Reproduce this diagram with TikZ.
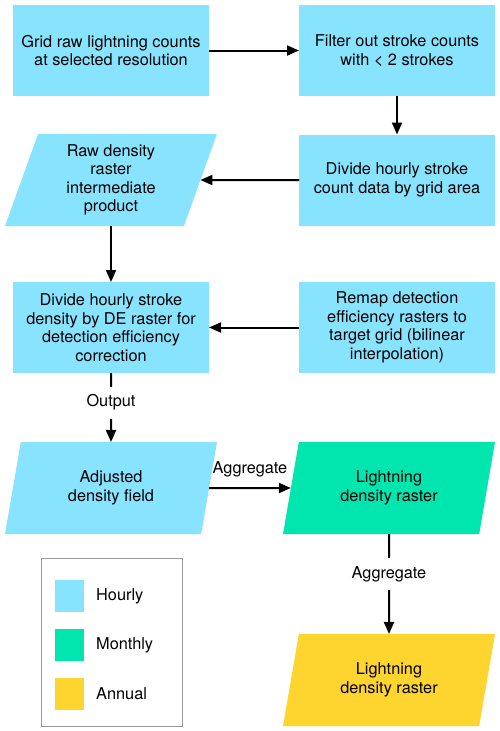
\documentclass[tikz,border=0pt]{standalone}
\usepackage{fontspec}
\setmainfont{TeX Gyre Heros}
\usepackage{xcolor}
\usetikzlibrary{arrows.meta,positioning,shapes.geometric}
\definecolor{lfdhourly}{HTML}{88E3FE}
\definecolor{lfdmonthly}{HTML}{00E6AE}
\definecolor{lfdannual}{HTML}{FED42F}
\definecolor{lfdframe}{HTML}{9A9A9A}
\tikzset{
  every picture/.append style={line cap=butt,line join=miter},
  lfd box/.style={rectangle,fill=lfdhourly,minimum width=196pt,minimum height=91pt,align=center,inner sep=0pt,outer sep=0pt},
  lfd data/.style={trapezium,trapezium left angle=65,trapezium right angle=115,trapezium stretches body,minimum width=212pt,minimum height=92pt,align=center,inner sep=0pt,outer sep=0pt},
  lfd arrow/.style={line width=2pt,-{Triangle[length=12pt,width=10pt]}},
  lfd note/.style={fill=white,inner xsep=2pt,inner ysep=8pt},
  lfd swatch/.style={rectangle,minimum width=29pt,minimum height=32pt,inner sep=0pt},
  lfd key/.style={anchor=west,inner sep=0pt}
}

\begin{document}
\begin{tikzpicture}[x=1pt,y=-1pt,font=\fontsize{16.3}{18.5}\selectfont]
    \useasboundingbox (0,0) rectangle (500,731);
    \node[lfd box] (grid) at (111,50.5) {Grid raw lightning counts\\at selected resolution};
    \node[lfd box] (filter) at (397,50.5) {Filter out stroke counts\\with < 2 strokes};
    \node[lfd box] (divarea) at (397,180) {Divide hourly stroke\\count data by grid area};
    \node[lfd data,fill=lfdhourly] (rawdens) at (111,180) {Raw density\\raster\\intermediate\\product};
    \node[lfd box] (divde) at (111,327.5) {Divide hourly stroke\\density by DE raster for\\detection efficiency\\correction};
    \node[lfd box] (remap) at (397,327.5) {Remap detection\\efficiency rasters to\\target grid (bilinear\\interpolation)};
    \node[lfd data,fill=lfdhourly] (adjusted) at (111,488) {Adjusted\\density field};
    \node[lfd data,fill=lfdmonthly] (monthly) at (389,488) {Lightning\\density raster};
    \node[lfd data,fill=lfdannual] (annual) at (389,680) {Lightning\\density raster};

    \draw[lfd arrow] (grid) -- (filter);
    \draw[lfd arrow] (filter.south -| divarea.north) -- (divarea);
    \draw[lfd arrow] (divarea) -- (rawdens);
    \draw[lfd arrow] (rawdens) -- (divde);
    \draw[lfd arrow] (remap) -- (divde);
    \draw[lfd arrow] (divde) -- node[lfd note,pos=0.43] (output) {Output} (adjusted);
    \draw[lfd arrow] (adjusted) -- node[above=10pt,inner sep=0pt] (aggmonth) {Aggregate} (monthly);
    \draw[lfd arrow] (monthly) -- node[lfd note,pos=0.4] (aggyear) {Aggregate} (annual);

    \node[draw=lfdframe,line width=1pt,minimum width=141pt,minimum height=168pt] (legend) at (111.5,642) {};
    \node[lfd swatch,fill=lfdhourly] (swhourly) at (69.5,596) {};
    \node[lfd swatch,fill=lfdmonthly] (swmonthly) at (69.5,645) {};
    \node[lfd swatch,fill=lfdannual] (swannual) at (69.5,693.5) {};
    \node[lfd key] (kyhourly) at (96,596) {Hourly};
    \node[lfd key] (kymonthly) at (96,645) {Monthly};
    \node[lfd key] (kyannual) at (96,693.5) {Annual};
  \end{tikzpicture}
\end{document}
